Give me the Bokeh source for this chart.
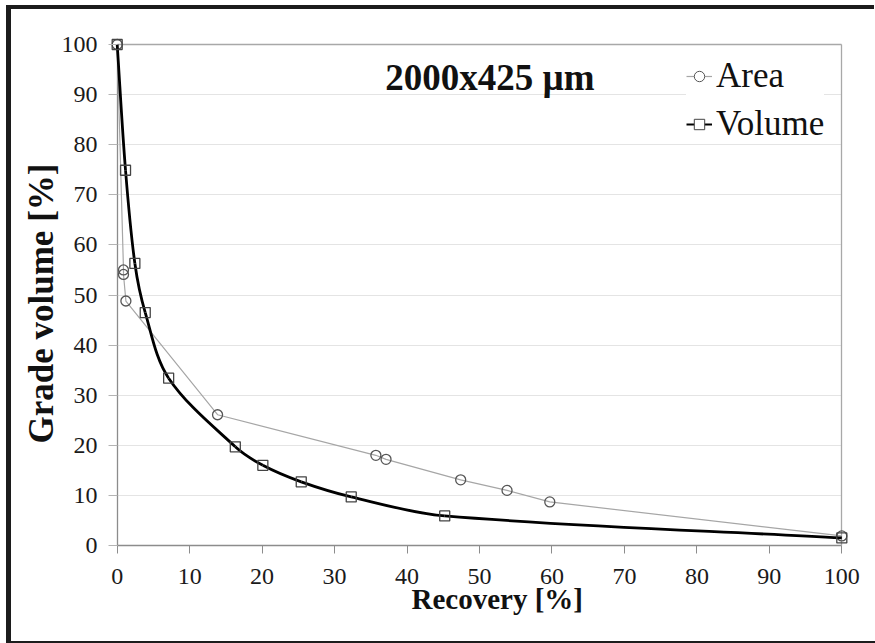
from bokeh.plotting import figure
from bokeh.layouts import column
from bokeh.models import Range1d, FixedTicker, Legend, LegendItem, Label, Grid, Title
from bokeh.embed import file_html
from bokeh.resources import INLINE

# ---- data ----
area_x = [0, 0.87, 0.87, 1.2, 13.85, 35.7, 37.1, 47.4, 53.8, 59.7, 100]
area_y = [100, 55.0, 54.1, 48.8, 26.1, 18.0, 17.2, 13.1, 11.0, 8.7, 1.9]
vol_x = [0, 1.15, 2.44, 3.87, 7.1, 16.3, 20.1, 25.4, 32.3, 45.2, 100]
vol_y = [100, 74.9, 56.3, 46.5, 33.4, 19.7, 16.0, 12.7, 9.7, 5.9, 1.5]
tick_values = list(range(0, 101, 10))
series_names = ["Area", "Volume"]
annotation_text = "2000x425 \u00b5m"
x_title = "Recovery [%]"
y_title = "Grade volume [%]"

FONT = "Liberation Serif"
NAN = float("nan")
DARK = "#1c1c1c"

p = figure(width=864, height=632,
           x_range=Range1d(-1.2, 101.2), y_range=Range1d(-1.6, 101.6),
           output_backend="svg", toolbar_location=None,
           min_border_left=97, min_border_right=25,
           min_border_top=27, min_border_bottom=88)
p.outline_line_color = None
p.background_fill_color = "white"
p.border_fill_color = "white"

# axes (at the frame edges; the visible axis lines are drawn by grids below)
xa = p.xaxis[0]
ya = p.yaxis[0]
for ax in (xa, ya):
    ax.ticker = FixedTicker(ticks=tick_values)
    ax.axis_line_color = None
    ax.major_tick_out = 0
    ax.minor_tick_line_color = None
    ax.major_label_text_font = FONT
    ax.major_label_text_font_size = "24px"
    ax.major_label_text_color = "#1a1a1a"
xa.major_tick_in = 8
xa.major_tick_line_color = "#8c8c8c"
ya.major_tick_in = 9
ya.major_tick_line_color = "#b4b4b4"
xa.major_label_standoff = 15
ya.major_label_standoff = 11

# axis titles, placed where the reference has them
p.add_layout(Title(text=x_title, align="left", offset=303, vertical_align="top",
                   standoff=-8, text_font=FONT, text_font_size="29px",
                   text_font_style="bold", text_color="#111111"), "below")
p.add_layout(Title(text=y_title, align="left", offset=110, vertical_align="bottom",
                   standoff=-4, text_font=FONT, text_font_size="35px",
                   text_font_style="bold", text_color="#111111"), "left")

# grids
p.xgrid.grid_line_color = None
p.ygrid.grid_line_color = "#e4e4e4"
p.ygrid.grid_line_width = 1
p.ygrid.cross_bounds = (0, 100)

# axis lines and plot-area border as single grid lines
for dim, loc, color in ((1, 0, "#8c8c8c"), (0, 0, "#8c8c8c"),
                        (1, 100, "#a8a8a8"), (0, 100, "#a8a8a8")):
    g = Grid(dimension=dim, ticker=FixedTicker(ticks=[loc]), grid_line_color=color,
             grid_line_width=1.3, cross_bounds=(0, 100))
    p.add_layout(g)

# smooth volume curve: cubic Bezier segments through the data points
sx, sy = 7.24, 5.015
n = len(vol_x)
def pt(i):
    i = max(0, min(n - 1, i))
    return vol_x[i], vol_y[i]
def dist(a, b):
    return (((a[0] - b[0]) * sx) ** 2 + ((a[1] - b[1]) * sy) ** 2) ** 0.5
bx0, by0, bx1, by1, bcx0, bcy0, bcx1, bcy1 = [], [], [], [], [], [], [], []
for i in range(n - 1):
    p0, p1, p2, p3 = pt(i - 1), pt(i), pt(i + 1), pt(i + 2)
    d0, d1, d2 = dist(p0, p1), dist(p1, p2), dist(p2, p3)
    f1 = d1 / (d0 + d1) / 3 if d0 + d1 > 0 else 0
    f2 = d1 / (d1 + d2) / 3 if d1 + d2 > 0 else 0
    bx0.append(p1[0]); by0.append(p1[1]); bx1.append(p2[0]); by1.append(p2[1])
    bcx0.append(p1[0] + (p2[0] - p0[0]) * f1); bcy0.append(p1[1] + (p2[1] - p0[1]) * f1)
    bcx1.append(p2[0] - (p3[0] - p1[0]) * f2); bcy1.append(p2[1] - (p3[1] - p1[1]) * f2)

p.line(area_x, area_y, line_color="#a6a6a6", line_width=1.2)
p.scatter(area_x, area_y, marker="circle", size=10, fill_color="white", fill_alpha=0.0,
          line_color="#555555", line_width=1.3)
p.bezier(x0=bx0, y0=by0, x1=bx1, y1=by1, cx0=bcx0, cy0=bcy0, cx1=bcx1, cy1=bcy1,
         line_color="black", line_width=2.8)
p.scatter(vol_x, vol_y, marker="square", size=10, fill_color="white", fill_alpha=0.0,
          line_color="#444444", line_width=1.3)

# legend-only renderers (a single NaN point, so nothing is drawn in the plot)
leg_area_l = p.line([NAN], [NAN], line_color="#a6a6a6", line_width=1.2)
leg_area_m = p.scatter([NAN], [NAN], marker="circle", size=8, fill_color="white",
                       line_color="#555555", line_width=1)
leg_vol_l = p.line([NAN], [NAN], line_color="black", line_width=2)
leg_vol_m = p.scatter([NAN], [NAN], marker="square", size=8, fill_color="white",
                      line_color="#444444", line_width=1)

legend = Legend(items=[LegendItem(label=series_names[0], renderers=[leg_area_l, leg_area_m]),
                       LegendItem(label=series_names[1], renderers=[leg_vol_l, leg_vol_m])],
                location=(578, 409), orientation="vertical",
                label_text_font=FONT, label_text_font_size="35px", label_text_color="#111111",
                label_standoff=4, glyph_width=26, glyph_height=40, label_height=40,
                spacing=8, padding=4, margin=0,
                background_fill_color="white", background_fill_alpha=1.0,
                border_line_color=None)
p.add_layout(legend)

p.add_layout(Label(x=37.0, y=93.4, text=annotation_text, text_font=FONT,
                   text_font_size="37px", text_font_style="bold", text_color="#111111",
                   text_baseline="middle", text_align="left"))

# page frame (dark border on the left, top and bottom) around the chart
page = column(p, width=864, height=632,
              styles={"position": "absolute", "left": "11px", "top": "9px",
                      "overflow": "hidden",
                      "box-shadow": (f"-3px -2px 0 2px {DARK}, 0 2px 0 0 {DARK}, "
                                     f"-5px 2px 0 0 {DARK}")})

open("out.html", "w").write(file_html(page, INLINE))
